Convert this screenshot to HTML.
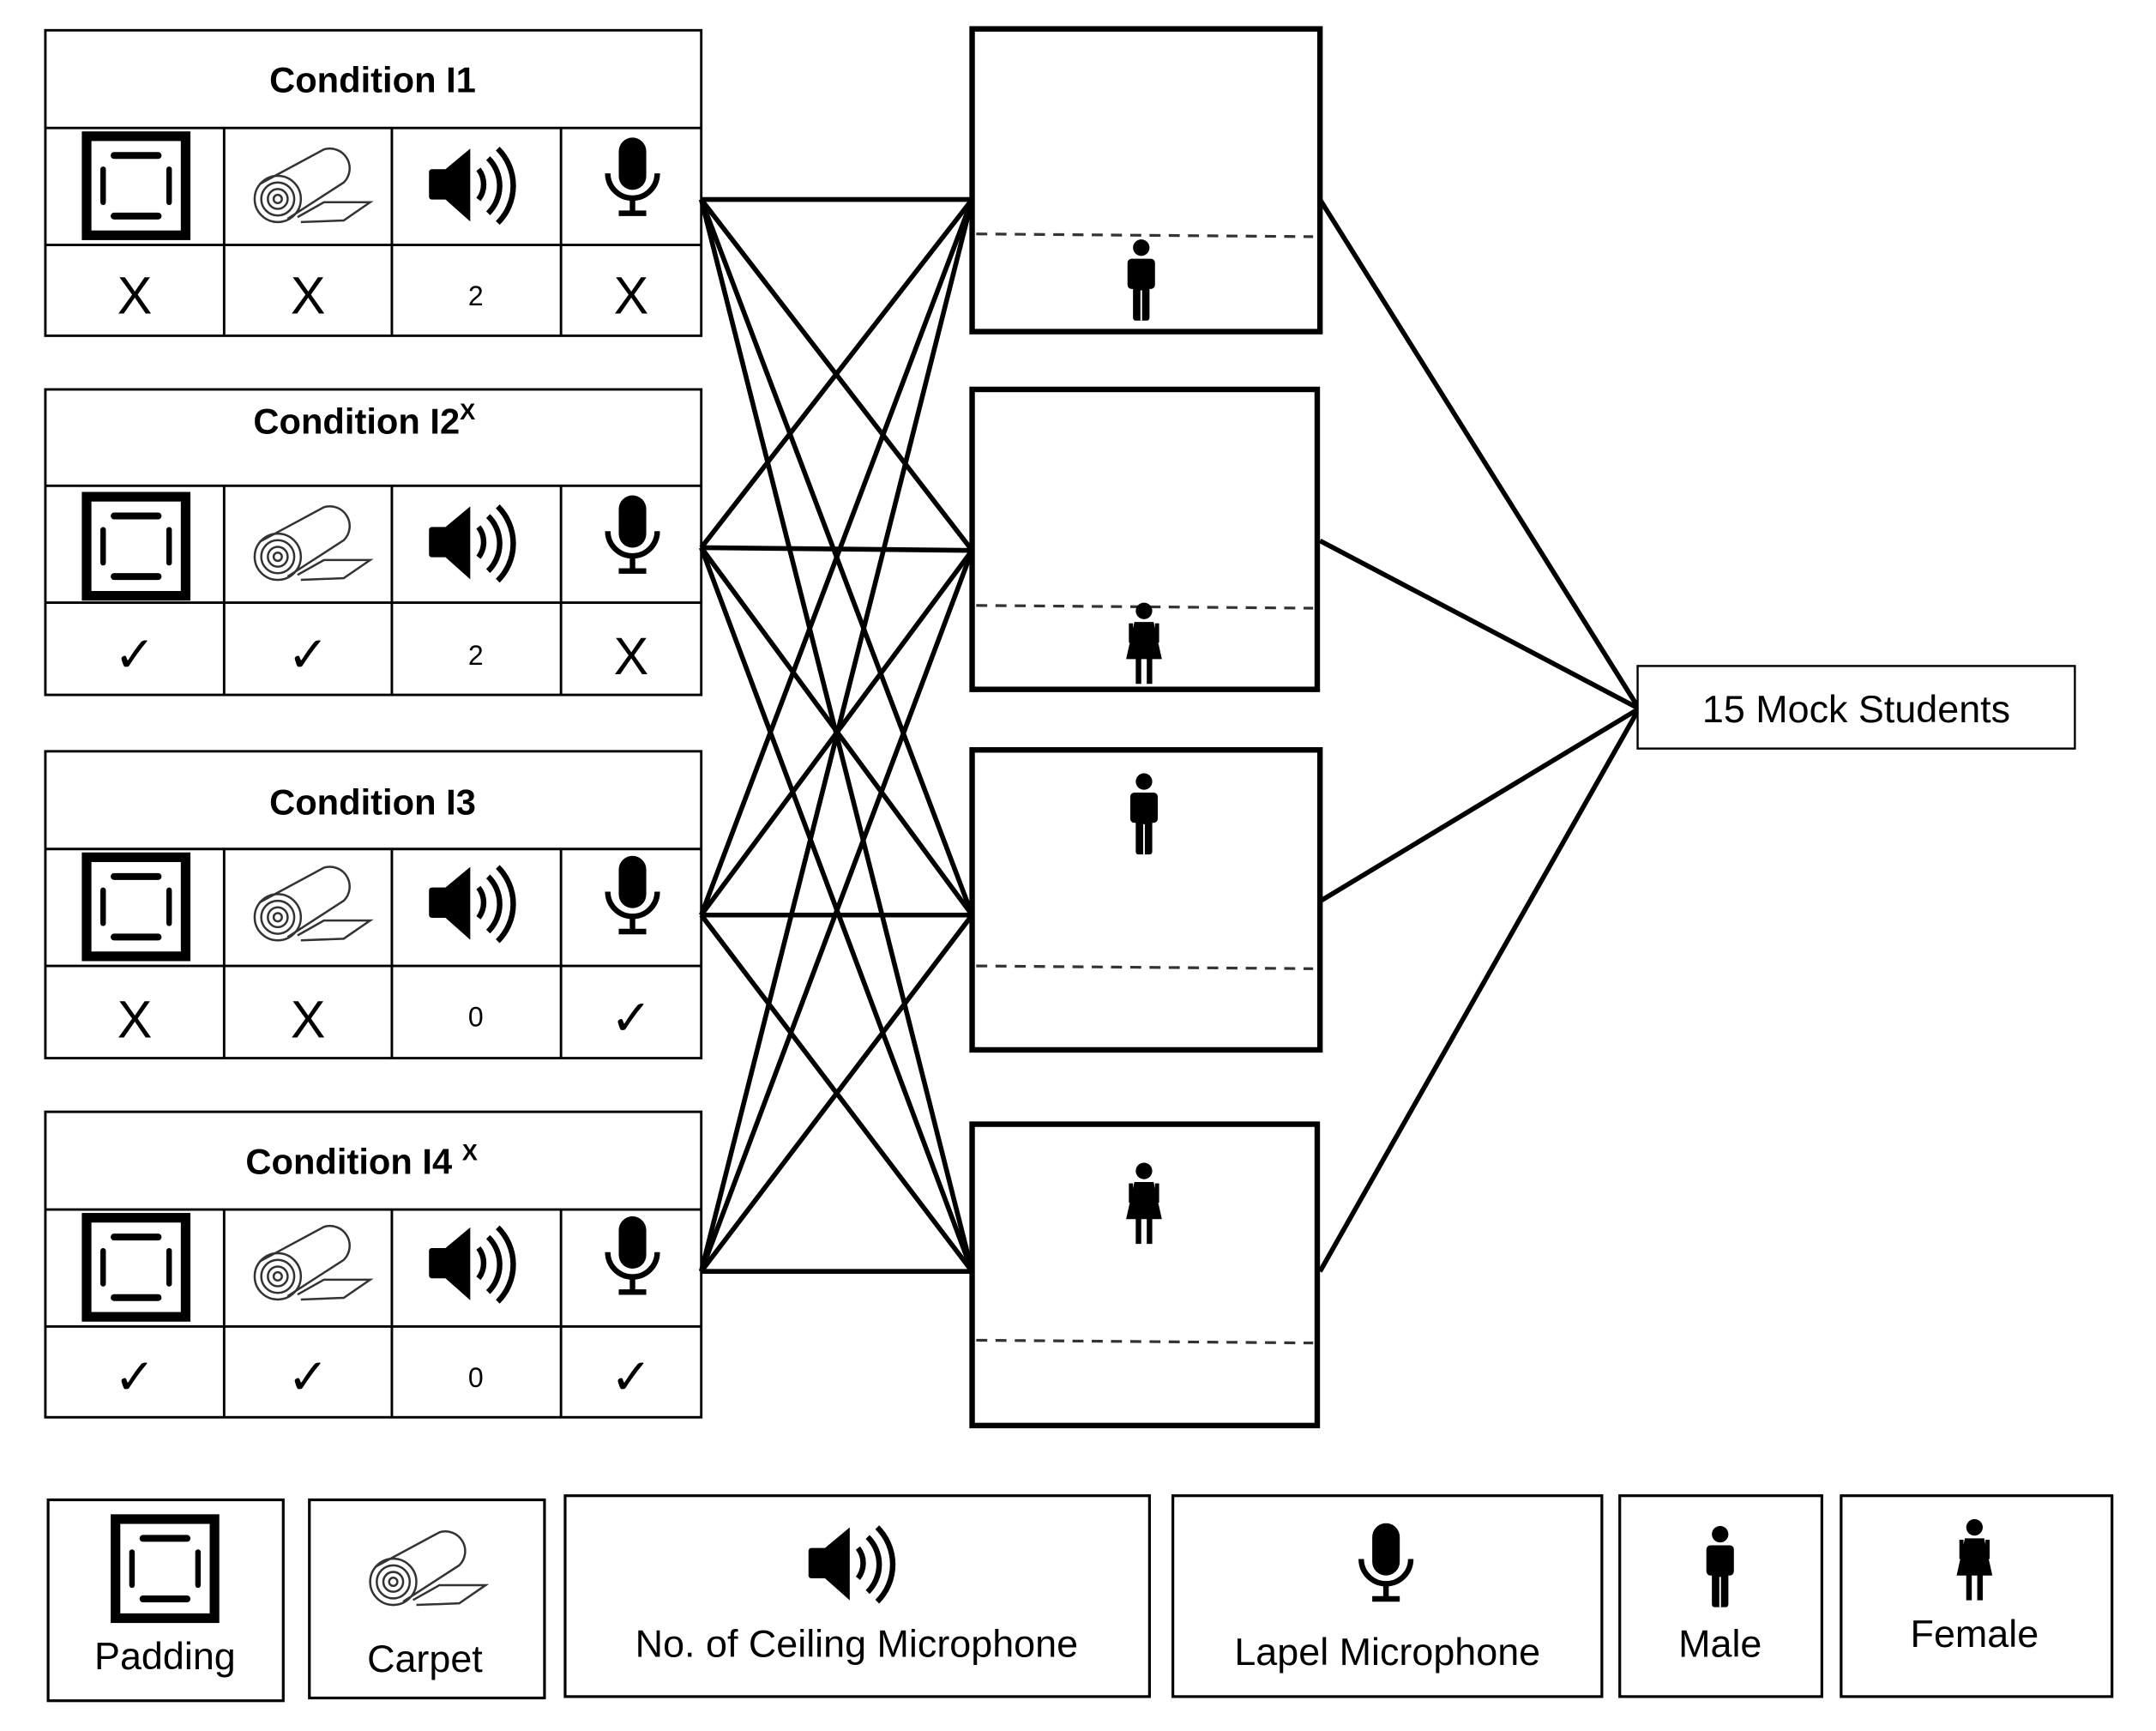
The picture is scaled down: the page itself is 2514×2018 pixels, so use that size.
<!DOCTYPE html>
<html><head><meta charset="utf-8"><style>
html,body{margin:0;padding:0;background:#fff;}
svg{display:block;}
text{font-family:"Liberation Sans",sans-serif;fill:#000;}
</style></head><body>
<svg width="2514" height="2018" viewBox="0 0 1568 1258" preserveAspectRatio="none" xmlns="http://www.w3.org/2000/svg">
<defs>
<g id="pad">
 <rect x="-36" y="-36" width="72" height="72" fill="none" stroke="#000" stroke-width="7"/>
 <line x1="-16" y1="-22" x2="16" y2="-22" stroke="#000" stroke-width="5" stroke-linecap="round"/>
 <line x1="-16" y1="22" x2="16" y2="22" stroke="#000" stroke-width="5" stroke-linecap="round"/>
 <line x1="-24" y1="-12" x2="-24" y2="12" stroke="#000" stroke-width="4" stroke-linecap="round"/>
 <line x1="24" y1="-12" x2="24" y2="12" stroke="#000" stroke-width="4" stroke-linecap="round"/>
</g>
<g id="carpet" fill="none" stroke="#333" stroke-width="1.3" transform="scale(1.2)">
 <circle cx="-20" cy="8" r="14"/><circle cx="-20" cy="8" r="10"/><circle cx="-20" cy="8" r="6"/><circle cx="-20" cy="8" r="2.5"/>
 <path d="M-31,-1 L8,-22 A12,12 0 0 1 20,-2 L-14,20"/>
 <path d="M-8,19 L8,10 L36,10 L20,21 L-6,22"/>
</g>
<g id="spk" fill="#000">
 <rect x="-34" y="-10" width="14" height="22" rx="2"/>
 <path d="M-22,-10 L-4,-25 L-4,28 L-22,12 Z"/>
 <path d="M2,-10 A18,18 0 0 1 2,12" fill="none" stroke="#000" stroke-width="4"/>
 <path d="M9,-18 A28,28 0 0 1 9,22" fill="none" stroke="#000" stroke-width="4"/>
 <path d="M16,-25 A38,38 0 0 1 16,29" fill="none" stroke="#000" stroke-width="4"/>
</g>
<g id="mic">
 <rect x="-10" y="-28" width="20" height="38" rx="10" fill="#000"/>
 <path d="M-18,-2 A18,18 0 0 0 18,-2" fill="none" stroke="#000" stroke-width="4"/>
 <line x1="0" y1="16" x2="0" y2="26" stroke="#000" stroke-width="4"/>
 <line x1="-10" y1="27" x2="10" y2="27" stroke="#000" stroke-width="4"/>
</g>
<g id="male" fill="#000">
 <circle cx="0" cy="-23" r="6"/>
 <rect x="-10" y="-15" width="20" height="22" rx="3"/>
 <rect x="-6" y="0" width="12" height="30" rx="2"/>
 <line x1="0" y1="8" x2="0" y2="30" stroke="#fff" stroke-width="1.2"/>
</g>
<g id="female" fill="#000">
 <circle cx="0" cy="-23" r="6"/>
 <path d="M-7,-15 L7,-15 L13,12 L-13,12 Z"/>
 <rect x="-6" y="10" width="4" height="20"/><rect x="2" y="10" width="4" height="20"/>
 <rect x="-11" y="-14" width="3" height="14"/><rect x="8" y="-14" width="3" height="14"/>
</g>
</defs>

<g stroke="#000" stroke-width="3.5">
 <line x1="510" y1="145" x2="707" y2="145"/><line x1="510" y1="145" x2="707" y2="400"/><line x1="510" y1="145" x2="707" y2="665"/><line x1="510" y1="145" x2="707" y2="924"/>
 <line x1="510" y1="398" x2="707" y2="145"/><line x1="510" y1="398" x2="707" y2="400"/><line x1="510" y1="398" x2="707" y2="665"/><line x1="510" y1="398" x2="707" y2="924"/>
 <line x1="510" y1="665" x2="707" y2="145"/><line x1="510" y1="665" x2="707" y2="400"/><line x1="510" y1="665" x2="707" y2="665"/><line x1="510" y1="665" x2="707" y2="924"/>
 <line x1="510" y1="924" x2="707" y2="145"/><line x1="510" y1="924" x2="707" y2="400"/><line x1="510" y1="924" x2="707" y2="665"/><line x1="510" y1="924" x2="707" y2="924"/>
 <line x1="960" y1="145" x2="1192" y2="515"/><line x1="960" y1="393" x2="1192" y2="515"/><line x1="960" y1="655" x2="1192" y2="515"/><line x1="960" y1="924" x2="1192" y2="515"/>
</g>

<g fill="none" stroke="#000" stroke-width="1.8">
 <rect x="33" y="22" width="477" height="222"/><line x1="33" y1="93" x2="510" y2="93"/><line x1="33" y1="178" x2="510" y2="178"/>
 <line x1="163" y1="93" x2="163" y2="244"/><line x1="285" y1="93" x2="285" y2="244"/><line x1="408" y1="93" x2="408" y2="244"/>
 <rect x="33" y="283" width="477" height="222"/><line x1="33" y1="353" x2="510" y2="353"/><line x1="33" y1="438" x2="510" y2="438"/>
 <line x1="163" y1="353" x2="163" y2="505"/><line x1="285" y1="353" x2="285" y2="505"/><line x1="408" y1="353" x2="408" y2="505"/>
 <rect x="33" y="546" width="477" height="223"/><line x1="33" y1="617" x2="510" y2="617"/><line x1="33" y1="702" x2="510" y2="702"/>
 <line x1="163" y1="617" x2="163" y2="769"/><line x1="285" y1="617" x2="285" y2="769"/><line x1="408" y1="617" x2="408" y2="769"/>
 <rect x="33" y="808" width="477" height="222"/><line x1="33" y1="879" x2="510" y2="879"/><line x1="33" y1="964" x2="510" y2="964"/>
 <line x1="163" y1="879" x2="163" y2="1030"/><line x1="285" y1="879" x2="285" y2="1030"/><line x1="408" y1="879" x2="408" y2="1030"/>
</g>
<g font-weight="bold" font-size="26" text-anchor="middle">
 <text x="271" y="67">Condition I1</text>
 <text x="265" y="315">Condition I2<tspan font-size="17" dy="-10">X</tspan></text>
 <text x="271" y="592">Condition I3</text>
 <text x="263" y="853">Condition I4 <tspan font-size="17" dy="-10">X</tspan></text>
</g>
<use href="#pad" x="99" y="135"/><use href="#carpet" x="226" y="135"/><use href="#spk" x="346" y="133"/><use href="#mic" x="460" y="128"/>
<use href="#pad" x="99" y="397"/><use href="#carpet" x="226" y="395"/><use href="#spk" x="346" y="393"/><use href="#mic" x="460" y="388"/>
<use href="#pad" x="99" y="659"/><use href="#carpet" x="226" y="657"/><use href="#spk" x="346" y="655"/><use href="#mic" x="460" y="650"/>
<use href="#pad" x="99" y="921"/><use href="#carpet" x="226" y="918"/><use href="#spk" x="346" y="917"/><use href="#mic" x="460" y="912"/>
<g text-anchor="middle" font-size="36">
 <text x="98" y="228" font-size="38">X</text><text x="224" y="228" font-size="38">X</text><text x="346" y="222" font-size="20">2</text><text x="459" y="228" font-size="38">X</text>
 <text x="98" y="488">✓</text><text x="224" y="488">✓</text><text x="346" y="483" font-size="20">2</text><text x="459" y="490" font-size="38">X</text>
 <text x="98" y="754" font-size="38">X</text><text x="224" y="754" font-size="38">X</text><text x="346" y="746" font-size="20">0</text><text x="459" y="752">✓</text>
 <text x="98" y="1013">✓</text><text x="224" y="1013">✓</text><text x="346" y="1008" font-size="20">0</text><text x="459" y="1013">✓</text>
</g>

<g fill="#fff" stroke="#000" stroke-width="4">
 <rect x="707" y="21" width="253" height="220"/>
 <rect x="707" y="283" width="251" height="218"/>
 <rect x="707" y="545" width="253" height="218"/>
 <rect x="707" y="817" width="251" height="219"/>
</g>
<g stroke="#333" stroke-width="2" stroke-dasharray="8,6">
 <line x1="710" y1="170" x2="955" y2="172"/>
 <line x1="710" y1="440" x2="955" y2="442"/>
 <line x1="710" y1="702" x2="955" y2="704"/>
 <line x1="710" y1="974" x2="955" y2="976"/>
</g>
<use href="#male" x="830" y="203"/>
<use href="#female" x="832" y="467"/>
<use href="#male" x="832" y="591"/>
<use href="#female" x="832" y="874"/>

<rect x="1191" y="484" width="318" height="60" fill="#fff" stroke="#000" stroke-width="1.5"/>
<text x="1350" y="525" font-size="28" text-anchor="middle">15 Mock Students</text>

<g fill="none" stroke="#000" stroke-width="2">
 <rect x="35" y="1090" width="171" height="146"/>
 <rect x="225" y="1090" width="171" height="144"/>
 <rect x="411" y="1087" width="425" height="146"/>
 <rect x="853" y="1087" width="312" height="146"/>
 <rect x="1178" y="1087" width="147" height="146"/>
 <rect x="1339" y="1087" width="197" height="146"/>
</g>
<use href="#pad" x="120" y="1140"/>
<use href="#carpet" x="310" y="1140"/>
<use href="#spk" x="622" y="1135"/>
<use href="#mic" x="1008" y="1135"/>
<use href="#male" x="1251" y="1138"/>
<use href="#female" x="1436" y="1133"/>
<g font-size="28" text-anchor="middle">
 <text x="120" y="1213">Padding</text>
 <text x="309" y="1215">Carpet</text>
 <text x="623" y="1204">No. of Ceiling Microphone</text>
 <text x="1009" y="1210">Lapel Microphone</text>
 <text x="1251" y="1204">Male</text>
 <text x="1436" y="1197">Female</text>
</g>
</svg>
</body></html>
